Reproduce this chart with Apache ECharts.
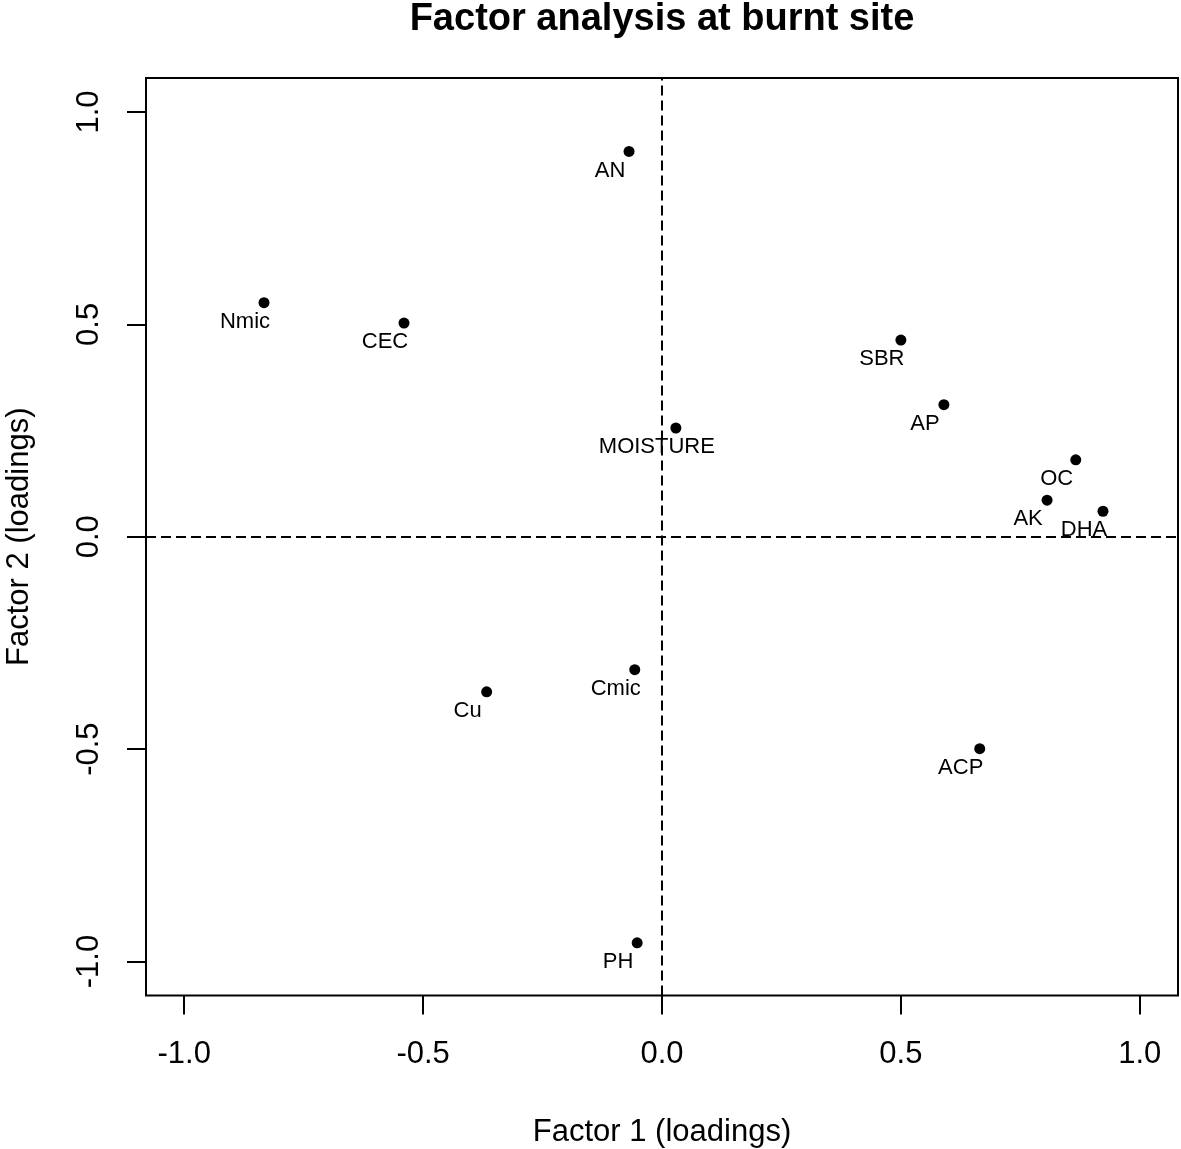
<!DOCTYPE html>
<html>
<head>
<meta charset="utf-8">
<script src="https://cdn.jsdelivr.net/npm/echarts@6/dist/echarts.min.js"></script>
<style>
  html, body { margin: 0; padding: 0; background: #fff; }
  #chart { width: 1181px; height: 1149px; }
</style>
</head>
<body>
<div id="chart"></div>
<script>
// variable names and loadings
const names = ['AN', 'Nmic', 'CEC', 'SBR', 'AP', 'MOISTURE', 'OC', 'AK', 'DHA', 'Cmic', 'Cu', 'ACP', 'PH']
const factor1 = [-0.069, -0.833, -0.540, 0.500, 0.590, 0.029, 0.866, 0.806, 0.923, -0.057, -0.367, 0.665, -0.052]
const factor2 = [0.907, 0.551, 0.503, 0.463, 0.311, 0.256, 0.181, 0.086, 0.060, -0.313, -0.365, -0.499, -0.956]
const ticks = [-1.0, -0.5, 0.0, 0.5, 1.0]

const font = 'Liberation Sans, Arial, sans-serif'
const points = names.map((n, i) => ({ name: n, value: [factor1[i], factor2[i]] }))

const chart = echarts.init(document.getElementById('chart'))

function axis(name, isY) {
  return {
    type: 'value',
    min: -1.08,
    max: 1.08,
    name: name,
    nameLocation: 'middle',
    nameGap: isY ? 111 : 121,
    nameRotate: isY ? 90 : 0,
    nameTextStyle: { color: '#000', fontSize: 31, fontFamily: font },
    axisLine: { show: false, onZero: false },
    axisTick: {
      show: true, inside: false, length: 19,
      customValues: ticks,
      lineStyle: { color: '#000', width: 2 },
    },
    axisLabel: {
      show: true,
      customValues: ticks,
      rotate: isY ? 90 : 0,
      margin: isY ? 41 : 43,
      color: '#000',
      fontSize: 31,
      fontFamily: font,
      formatter: v => v.toFixed(1),
    },
    splitLine: { show: false },
  }
}

chart.setOption({
  backgroundColor: '#fff',
  animation: false,
  // title centred over the plot box, as in the original
  graphic: [{
    type: 'text',
    x: 662,
    y: 1,
    style: {
      text: 'Factor analysis at burnt site',
      fill: '#000',
      font: 'bold 38px ' + font,
      textAlign: 'center',
      textVerticalAlign: 'top',
    },
  }],
  grid: {
    left: 146, right: 3, top: 78, bottom: 153.5,
    outerBoundsMode: 'none',
    show: true, borderColor: '#000', borderWidth: 2, backgroundColor: 'transparent',
  },
  xAxis: axis('Factor 1 (loadings)', false),
  yAxis: axis('Factor 2 (loadings)', true),
  series: [{
    type: 'scatter',
    data: points,
    symbol: 'circle',
    symbolSize: 11,
    itemStyle: { color: '#000', opacity: 1 },
    label: {
      show: true,
      position: 'inside',
      offset: [-19, 19],
      formatter: p => p.name,
      color: '#000',
      fontSize: 22,
      fontFamily: font,
    },
    markLine: {
      silent: true,
      symbol: 'none',
      label: { show: false },
      lineStyle: { color: '#000', width: 2, type: [10, 5], opacity: 1 },
      data: [{ xAxis: 0 }, { yAxis: 0 }],
    },
  }],
})
</script>
</body>
</html>
